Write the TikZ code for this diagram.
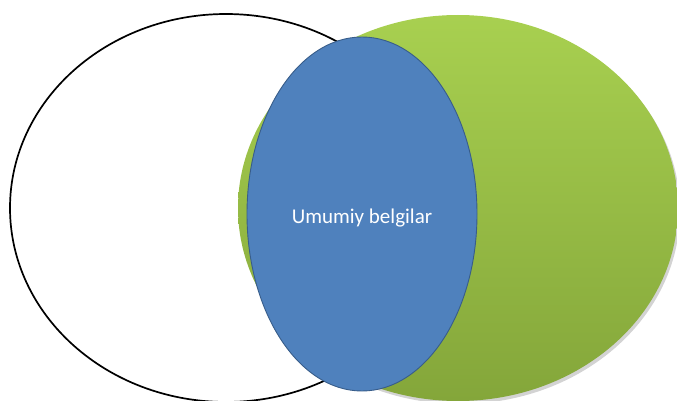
\documentclass[tikz,border=0pt]{standalone}
\usepackage{fontspec}
\setmainfont{Carlito}
\usepackage{xcolor}
\usetikzlibrary{shapes.geometric, shadows, positioning}

\definecolor{setblue}{HTML}{4F81BD}
\definecolor{setblueline}{HTML}{385D8A}
\definecolor{greentop}{HTML}{A8D050}
\definecolor{greenbot}{HTML}{84A63A}

\begin{document}
\begin{tikzpicture}[
    x=1pt, y=-1pt,
    setA/.style={ellipse, draw=black, line width=1.7pt, fill=white, minimum width=432pt, minimum height=388pt},
    setB/.style={ellipse, top color=greentop, bottom color=greenbot, minimum width=440pt, minimum height=386pt,
                 drop shadow={shadow xshift=2pt, shadow yshift=-3pt, opacity=0.35}},
    common/.style={ellipse, draw=setblueline, line width=0.9pt, fill=setblue, minimum width=230pt, minimum height=354pt,
                   text=white, font=\fontsize{21}{25}\selectfont, text height=18pt, text depth=0pt},
]
\useasboundingbox (0,0) rectangle (677,401);

% Sets
\node[setA] (left) at (226,208) {};
\node[setB] (right) at (458,208) {};

% Intersection
\node[common] (mid) at (362,214) {Umumiy belgilar};
\end{tikzpicture}
\end{document}
